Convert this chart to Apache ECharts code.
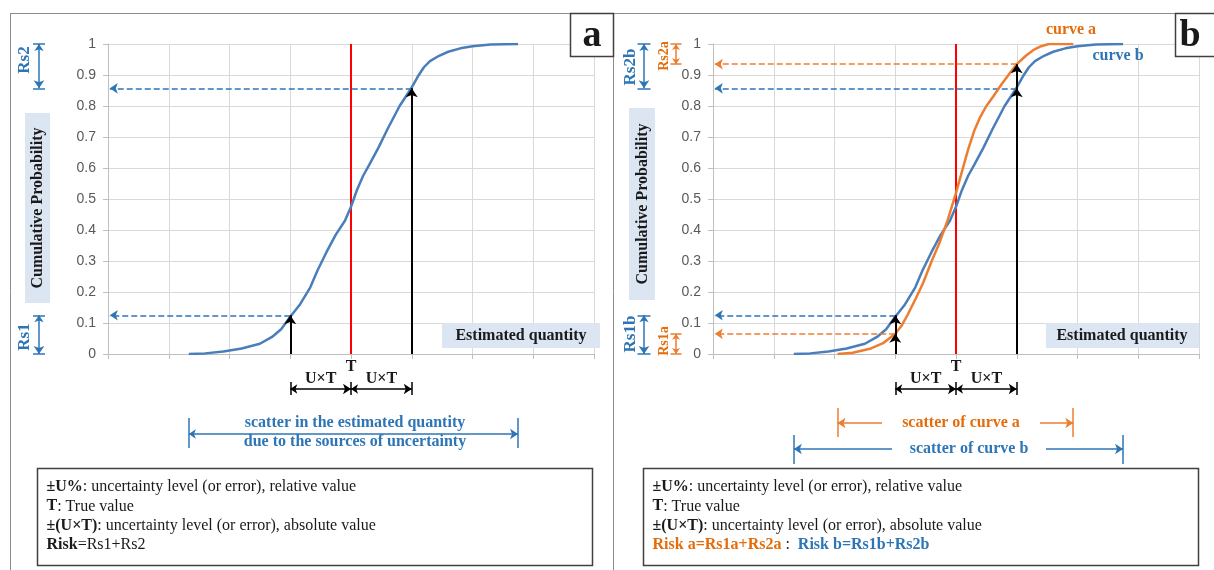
<!DOCTYPE html>
<html><head><meta charset="utf-8">
<script src="https://cdn.jsdelivr.net/npm/echarts@6/dist/echarts.min.js"></script>
<style>html,body{margin:0;padding:0;background:#fff}#c{width:1214px;height:570px}</style>
</head><body><div id="c"></div>
<script>
// ---------- data ----------
const yTickLabels = ['0','0.1','0.2','0.3','0.4','0.5','0.6','0.7','0.8','0.9','1'];
// curve b (also the single curve of panel a)
const curveBX = [1.33,1.6,1.9,2.2,2.5,2.7,2.85,3.0,3.16,3.33,3.45,3.6,3.75,3.9,4.0,4.1,4.2,4.3,4.45,4.6,4.8,4.9,5.0,5.1,5.2,5.3,5.45,5.6,5.8,6.0,6.3,6.75];
const curveBY = [0,0.002,0.008,0.018,0.033,0.055,0.08,0.12,0.16,0.215,0.27,0.33,0.385,0.43,0.475,0.53,0.575,0.61,0.665,0.725,0.80,0.83,0.86,0.895,0.925,0.945,0.962,0.975,0.986,0.993,0.998,1.0];
// curve a (panel b, orange)
const curveAX = [2.05,2.3,2.6,2.8,3.0,3.1,3.2,3.34,3.46,3.6,3.72,3.86,4.0,4.1,4.2,4.3,4.4,4.5,4.61,4.75,4.9,5.0,5.15,5.27,5.4,5.53,5.93];
const curveAY = [0,0.004,0.018,0.035,0.065,0.09,0.125,0.18,0.23,0.3,0.355,0.43,0.52,0.59,0.66,0.72,0.765,0.80,0.83,0.87,0.91,0.935,0.962,0.98,0.993,1.0,1.0];
const trueValue = 4;
const uxt = 1;
const levelsB = [0.125, 0.857];   // cumulative probability at T-UxT and T+UxT, curve b
const levelsA = [0.065, 0.935];   // same for curve a

// ---------- style ----------
const BLUE = '#2E75B6', CURVE_BLUE = '#4A7EBB', ORANGE = '#ED7D31', ORANGE_T = '#E46C0A', DARK = '#1a1a1a';
const SERIF = '"Liberation Serif","DejaVu Serif",serif';

const chart = echarts.init(document.getElementById('c'), null, {renderer: 'canvas'});
const zip = (xs, ys) => xs.map((x, i) => [x, ys[i]]);

const base = {
  animation: false,
  grid: [{left: 108, top: 44, width: 486, height: 310}, {left: 713, top: 44, width: 486, height: 310}],
  xAxis: [0, 1].map(i => ({gridIndex: i, type: 'value', min: 0, max: 8, interval: 1,
    axisLabel: {show: false}, axisTick: {show: true, length: 5, lineStyle: {color: '#BFBFBF'}},
    axisLine: {show: true, lineStyle: {color: '#BFBFBF'}}, splitLine: {show: true, lineStyle: {color: '#D9D9D9'}}})),
  yAxis: [0, 1].map(i => ({gridIndex: i, type: 'value', min: 0, max: 1, interval: 0.1,
    axisLabel: {formatter: v => yTickLabels[Math.round(v * 10)], fontSize: 14, color: '#595959', fontFamily: '"Liberation Sans",Arial,sans-serif', margin: 12},
    axisTick: {show: true, length: 5, lineStyle: {color: '#BFBFBF'}},
    axisLine: {show: true, lineStyle: {color: '#BFBFBF'}}, splitLine: {show: true, lineStyle: {color: '#D9D9D9'}}})),
  series: []
};
chart.setOption(base);

const xd = (g, px) => chart.convertFromPixel({gridIndex: g}, [px, 0])[0];
const yd = (g, py) => chart.convertFromPixel({gridIndex: g}, [0, py])[1];
const px = (g, x, y) => chart.convertToPixel({gridIndex: g}, [x, y]);

const series = [];
function seg(g, coords, color, o) {
  o = o || {};
  series.push({type: 'lines', coordinateSystem: 'cartesian2d', xAxisIndex: g, yAxisIndex: g, clip: false, polyline: false,
    silent: true, z: o.z || 6, symbol: o.sym || ['none', 'none'], symbolSize: o.size || 8,
    lineStyle: {color: color, width: o.w || 1.5, type: o.type || 'solid', opacity: 1}, data: [{coords: coords}]});
}
function curve(g, data, color, z) {
  series.push({type: 'line', xAxisIndex: g, yAxisIndex: g, data: data, showSymbol: false, symbol: 'none', smooth: false,
    lineStyle: {color: color, width: 2.5}, z: z, silent: true});
}
const ARR_END = ['none', 'arrow'], ARR_BOTH = ['arrow', 'arrow'];

// curves + true-value lines
[0, 1].forEach(g => {
  series.push({type: 'line', xAxisIndex: g, yAxisIndex: g, data: [[trueValue, 0], [trueValue, 1]], showSymbol: false, symbol: 'none',
    lineStyle: {color: '#FF0000', width: 2}, z: 3, silent: true});
});
curve(0, zip(curveBX, curveBY), CURVE_BLUE, 5);
curve(1, zip(curveBX, curveBY), CURVE_BLUE, 5);
curve(1, zip(curveAX, curveAY), ORANGE, 6);

const xLo = trueValue - uxt, xHi = trueValue + uxt, xTip = 0.03;
// dashed projection arrows and vertical black arrows
function projections(g, levels, color) {
  seg(g, [[xHi, levels[1]], [xTip, levels[1]]], color, {type: [6, 3], sym: ARR_END, size: [7, 8], w: 1.6});
  seg(g, [[xLo, levels[0]], [xTip, levels[0]]], color, {type: [6, 3], sym: ARR_END, size: [7, 8], w: 1.6});
  seg(g, [[xLo, 0], [xLo, levels[0]]], '#000', {sym: ARR_END, size: [8, 9], w: 2, z: 8});
  seg(g, [[xHi, 0], [xHi, levels[1]]], '#000', {sym: ARR_END, size: [8, 9], w: 2, z: 8});
}
projections(0, levelsB, BLUE);
projections(1, levelsB, BLUE);
projections(1, levelsA, ORANGE);

// U x T arrows below axis
[0, 1].forEach(g => {
  const yU = yd(g, 389), yT0 = yd(g, 382), yT1 = yd(g, 395);
  seg(g, [[xLo, yU], [trueValue, yU]], '#000', {sym: ARR_BOTH, size: [7, 8], w: 1.5});
  seg(g, [[trueValue, yU], [xHi, yU]], '#000', {sym: ARR_BOTH, size: [7, 8], w: 1.5});
  [xLo, trueValue, xHi].forEach(x => seg(g, [[x, yT0], [x, yT1]], '#000', {w: 1.5}));
});

// scatter ranges
const minB = Math.min(...curveBX), maxB = Math.max(...curveBX);
const minA = Math.min(...curveAX), maxA = Math.max(...curveAX);
(function () {
  const ys = yd(0, 434);
  seg(0, [[minB, ys], [maxB, ys]], BLUE, {sym: ARR_BOTH, size: [7, 8], w: 1.5});
  seg(0, [[minB, yd(0, 418)], [minB, yd(0, 448)]], BLUE, {w: 1.5});
  seg(0, [[maxB, yd(0, 418)], [maxB, yd(0, 448)]], BLUE, {w: 1.5});
})();
function scatterSplit(g, mn, mx, yPix, gapL, gapR, color, barTop, barBot) {
  const y = yd(g, yPix);
  seg(g, [[xd(g, gapL), y], [mn, y]], color, {sym: ARR_END, size: [7, 8], w: 1.5});
  seg(g, [[xd(g, gapR), y], [mx, y]], color, {sym: ARR_END, size: [7, 8], w: 1.5});
  seg(g, [[mn, yd(g, barTop)], [mn, yd(g, barBot)]], color, {w: 1.5});
  seg(g, [[mx, yd(g, barTop)], [mx, yd(g, barBot)]], color, {w: 1.5});
}
scatterSplit(1, minA, maxA, 423, 882, 1040, ORANGE, 408, 437);
scatterSplit(1, minB, maxB, 449, 892, 1046, BLUE, 435, 464);

// Rs brackets left of y axis
function bracket(g, xPix, halfW, yTop, yBot, color, sz) {
  const x = xd(g, xPix), x0 = xd(g, xPix - halfW), x1 = xd(g, xPix + halfW);
  seg(g, [[x, yTop], [x, yBot]], color, {sym: ARR_BOTH, size: sz || [7, 8], w: 1.5});
  seg(g, [[x0, yTop], [x1, yTop]], color, {w: 1.5});
  seg(g, [[x0, yBot], [x1, yBot]], color, {w: 1.5});
}
bracket(0, 39, 6, 1, levelsB[1], BLUE);
bracket(0, 39, 6, levelsB[0], 0, BLUE);
bracket(1, 644, 6.5, 1, levelsB[1], BLUE);
bracket(1, 644, 6.5, levelsB[0], 0, BLUE);
bracket(1, 676, 5.5, 1, levelsA[1], ORANGE, [6, 6]);
bracket(1, 676, 5.5, levelsA[0], 0, ORANGE, [6, 6]);

// ---------- graphic (text & frames) ----------
const G = [];
function text(x, y, t, o) {
  o = o || {};
  G.push({type: 'text', x: x, y: y, rotation: o.rot || 0, z: 20, silent: true,
    style: {text: t, fill: o.color || DARK, fontSize: o.size || 16, fontFamily: o.family || SERIF, fontWeight: o.weight || 'bold',
      align: o.align || 'center', verticalAlign: 'middle', rich: o.rich}});
}
function rect(x, y, w, h, o) {
  G.push({type: 'rect', shape: {x: x, y: y, width: w, height: h}, z: o.z || 10, silent: true,
    style: {fill: o.fill || 'none', stroke: o.stroke || null, lineWidth: o.lw || 1}});
}
function line(x1, y1, x2, y2, color, lw) {
  G.push({type: 'line', shape: {x1: x1, y1: y1, x2: x2, y2: y2}, z: 10, silent: true, style: {stroke: color, lineWidth: lw || 1}});
}
// frames
line(10, 13.5, 1214, 13.5, '#8C8C8C');
line(10.5, 13, 10.5, 570, '#8C8C8C');
line(613.5, 13, 613.5, 570, '#8C8C8C');
rect(570.5, 13.5, 43, 43, {fill: '#fff', stroke: '#404040', lw: 1.5, z: 15});
text(592, 36, 'a', {size: 38});
rect(1175.5, 13.5, 45, 43, {fill: '#fff', stroke: '#404040', lw: 1.5, z: 15});
text(1190, 36, 'b', {size: 38});

// axis titles
rect(25, 113, 25, 190, {fill: '#DCE6F2'});
text(38, 208, 'Cumulative Probability', {rot: Math.PI / 2});
rect(629, 108, 26, 192, {fill: '#DCE6F2'});
text(643, 204, 'Cumulative Probability', {rot: Math.PI / 2});
rect(442, 323, 158, 25, {fill: '#DCE6F2'});
text(521, 336, 'Estimated quantity');
rect(1046, 323, 153, 25, {fill: '#DCE6F2'});
text(1122, 336, 'Estimated quantity');

// Rs labels
text(25, 60, 'Rs2', {rot: Math.PI / 2, color: BLUE, size: 17});
text(25, 337, 'Rs1', {rot: Math.PI / 2, color: BLUE, size: 17});
text(631, 67, 'Rs2b', {rot: Math.PI / 2, color: BLUE, size: 17});
text(631, 334, 'Rs1b', {rot: Math.PI / 2, color: BLUE, size: 17});
text(664, 56, 'Rs2a', {rot: Math.PI / 2, color: ORANGE_T, size: 14});
text(664, 341, 'Rs1a', {rot: Math.PI / 2, color: ORANGE_T, size: 14});

// curve names
text(1071, 30, 'curve a', {color: ORANGE_T});
text(1118, 56, 'curve b', {color: BLUE});

// T and UxT labels
[0, 1].forEach(g => {
  const pT = px(g, trueValue, 0)[0], pL = px(g, xLo, 0)[0], pH = px(g, xHi, 0)[0];
  text(pT, 367, 'T');
  text((pL + pT) / 2, 379, 'U×T');
  text((pT + pH) / 2, 379, 'U×T');
});
// scatter texts
text(355, 423, 'scatter in the estimated quantity', {color: BLUE});
text(355, 442, 'due to the sources of uncertainty', {color: BLUE});
text(961, 423, 'scatter of curve a', {color: ORANGE_T});
text(969, 449, 'scatter of curve b', {color: BLUE});

// definition boxes
const defRich = {
  b: {fontWeight: 'bold', fontSize: 16, fontFamily: SERIF, fill: DARK},
  o: {fontWeight: 'bold', fontSize: 16, fontFamily: SERIF, fill: ORANGE_T},
  bl: {fontWeight: 'bold', fontSize: 16, fontFamily: SERIF, fill: BLUE}
};
const defLines = ['{b|±U%}: uncertainty level (or error), relative value', '{b|T}: True value', '{b|±(U×T)}: uncertainty level (or error), absolute value'];
[[37.5, '{b|Risk}=Rs1+Rs2'], [643.5, '{o|Risk a=Rs1a+Rs2a} :  {bl|Risk b=Rs1b+Rs2b}']].forEach(([bx, last]) => {
  rect(bx, 468.5, 555, 97, {fill: '#fff', stroke: '#404040', lw: 1.5});
  defLines.concat([last]).forEach((t, i) => text(bx + 9, 487 + i * 19.3, t, {align: 'left', weight: 'normal', rich: defRich}));
});

chart.setOption({series: series, graphic: {elements: G}});
</script></body></html>
